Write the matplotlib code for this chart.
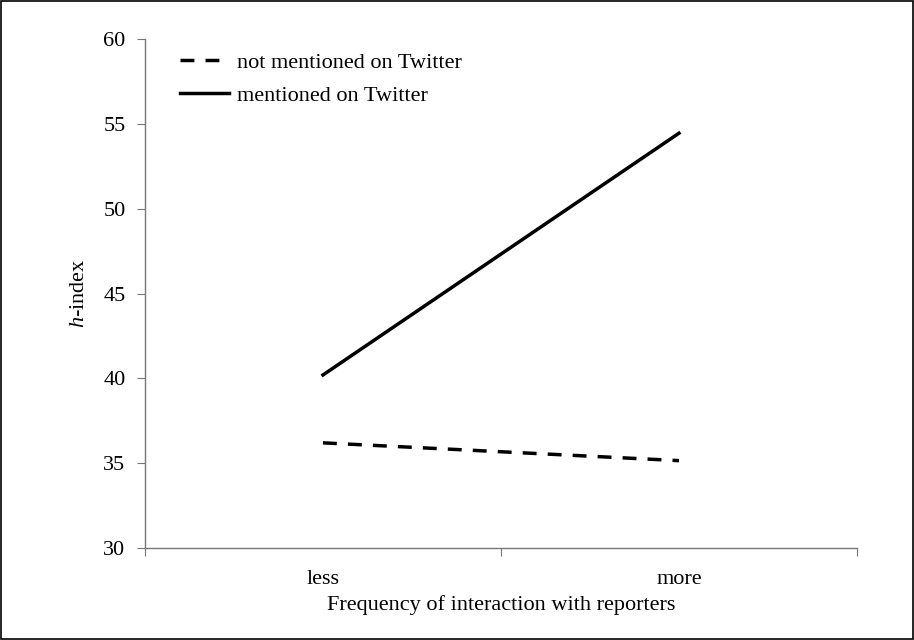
import matplotlib
matplotlib.use("Agg")
import matplotlib.pyplot as plt
from matplotlib.patches import Rectangle

plt.rcParams["font.family"] = ["Liberation Serif", "DejaVu Serif"]
plt.rcParams["mathtext.fontset"] = "custom"
plt.rcParams["mathtext.rm"] = "Liberation Serif"
plt.rcParams["mathtext.it"] = "Liberation Serif:italic"

categorias = ["less", "more"]
nao_mencionado = [36.2, 35.15]
mencionado = [40.2, 54.45]
ticks_y = [30, 35, 40, 45, 50, 55, 60]

fig = plt.figure(figsize=(9.14, 6.4), dpi=100)
ax = fig.add_axes([0.1586, 0.1437, 0.7790, 0.7953])

posicoes = [0.5, 1.5]
ax.plot(posicoes, nao_mencionado, color="black", linestyle=(0, (4.0, 3.2)),
        linewidth=2.5, label="not mentioned on Twitter")
ax.plot(posicoes, mencionado, color="black", linestyle="-",
        linewidth=2.5, label="mentioned on Twitter")

ax.set_xlim(0, 2)
ax.set_ylim(30, 60)
ax.set_yticks(ticks_y)
ax.set_xticks([0, 1, 2])
ax.set_xticklabels([])
ax.set_xticks(posicoes, minor=True)
ax.set_xticklabels(categorias, minor=True)
ax.tick_params(axis="x", which="minor", length=0, pad=16, labelsize=16)
ax.tick_params(axis="x", which="major", length=6, color="#777777", direction="out")
ax.tick_params(axis="y", length=6, color="#777777", direction="out", labelsize=16, pad=8)

for lado in ("top", "right"):
    ax.spines[lado].set_visible(False)
for lado in ("left", "bottom"):
    ax.spines[lado].set_color("#777777")
    ax.spines[lado].set_linewidth(1.0)

ax.set_xlabel("Frequency of interaction with reporters", fontsize=16, labelpad=4)
ax.set_ylabel("$\\mathit{h}$-index", fontsize=16, labelpad=10)

ax.legend(loc="upper left", bbox_to_anchor=(0.021, 1.013), frameon=False,
          fontsize=16, handlelength=2.2, handletextpad=0.36, labelspacing=0.55)

fig.patches.append(Rectangle((0.001, 0.001), 0.998, 0.997, transform=fig.transFigure,
                             fill=False, edgecolor="black", linewidth=1.2))

fig.savefig("out.png", dpi=100)
